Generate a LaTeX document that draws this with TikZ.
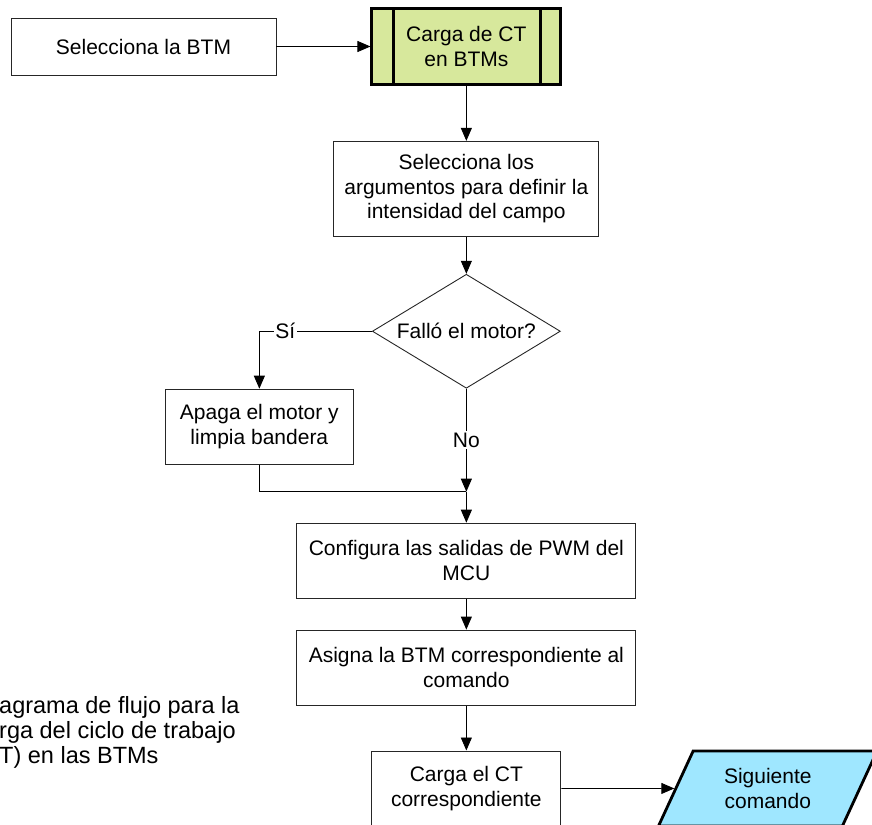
\documentclass[tikz,border=0pt]{standalone}
\usepackage{fontspec}
\setmainfont{Liberation Sans}
\usetikzlibrary{positioning, shapes.geometric, arrows.meta}

\definecolor{verdeproc}{HTML}{D7E89C}
\definecolor{azulsal}{HTML}{9FE7FF}

\begin{document}
\begin{tikzpicture}[
        >={Triangle[length=13pt, width=11pt]},
        every node/.style={font=\fontsize{21}{24.5}\selectfont, align=center, inner sep=0pt},
        caja/.style={draw=black!85, line width=0.9pt, rectangle, minimum height=75pt},
        proceso/.style={draw, line width=2.8pt, fill=verdeproc, minimum width=189pt, minimum height=76pt},
        decision/.style={draw=black!85, line width=0.9pt, diamond, aspect=1.65, minimum width=188pt, minimum height=114pt},
        salida/.style={draw, line width=2.8pt, fill=azulsal, trapezium, trapezium left angle=63, trapezium right angle=117, trapezium stretches=true, minimum width=219pt, minimum height=75pt},
        linea/.style={line width=0.9pt},
        etiqueta/.style={fill=white, inner sep=1.5pt}
    ]
        \useasboundingbox (0,0) rectangle (872pt,-824pt);

        \node[caja, minimum width=265pt, minimum height=57pt] (sel) at (143.5pt,-46.5pt) {Selecciona la BTM};
        \node[proceso, right = 94pt of sel] (BTM) {Carga de CT\\en BTMs};
        \draw[line width=2.8pt] ([xshift=23pt]BTM.north west) -- ([xshift=23pt]BTM.south west);
        \draw[line width=2.8pt] ([xshift=-22pt]BTM.north east) -- ([xshift=-22pt]BTM.south east);
        \node[caja, below = 55pt of BTM, minimum width=265pt, minimum height=95pt] (args) {Selecciona los\\argumentos para definir la\\intensidad del campo};
        \node[decision, below = 37pt of args] (falla) {Falló el motor?};
        \node[caja, anchor=north, minimum width=188pt] (apaga) at ([xshift=-207pt]falla.south) {Apaga el motor y\\limpia bandera};
        \coordinate[below = 103pt of falla.south] (union);
        \node[caja, below = 134pt of falla, minimum width=339pt] (config) {Configura las salidas de PWM del\\MCU};
        \node[caja, below = 31pt of config, minimum width=339pt] (asigna) {Asigna la BTM correspondiente al\\comando};
        \node[caja, below = 45pt of asigna, minimum width=189pt] (cargaCT) {Carga el CT\\correspondiente};
        \node[salida, right = 113pt of cargaCT] (sig) {Siguiente\\comando};
        \node[anchor=west, align=left, font=\fontsize{23.5}{25}\selectfont] (pie) at (-1pt,-732pt) {agrama de flujo para la\\rga del ciclo de trabajo\\T) en las BTMs};

        \draw[linea, ->] (sel) -- (BTM);
        \draw[linea, ->] (BTM) -- (args);
        \draw[linea, ->] (args) -- (falla);
        \draw[linea, ->] (falla.west) -| (apaga) node[pos=0.385, etiqueta] {Sí};
        \draw[linea, ->] (falla) -- (union) node[midway, etiqueta] {No};
        \draw[linea] (apaga) |- (union);
        \draw[linea, ->] (union) -- (config);
        \draw[linea, ->] (config) -- (asigna);
        \draw[linea, ->] (asigna) -- (cargaCT);
        \draw[linea, ->] (cargaCT) -- (sig);
    \end{tikzpicture}
\end{document}
